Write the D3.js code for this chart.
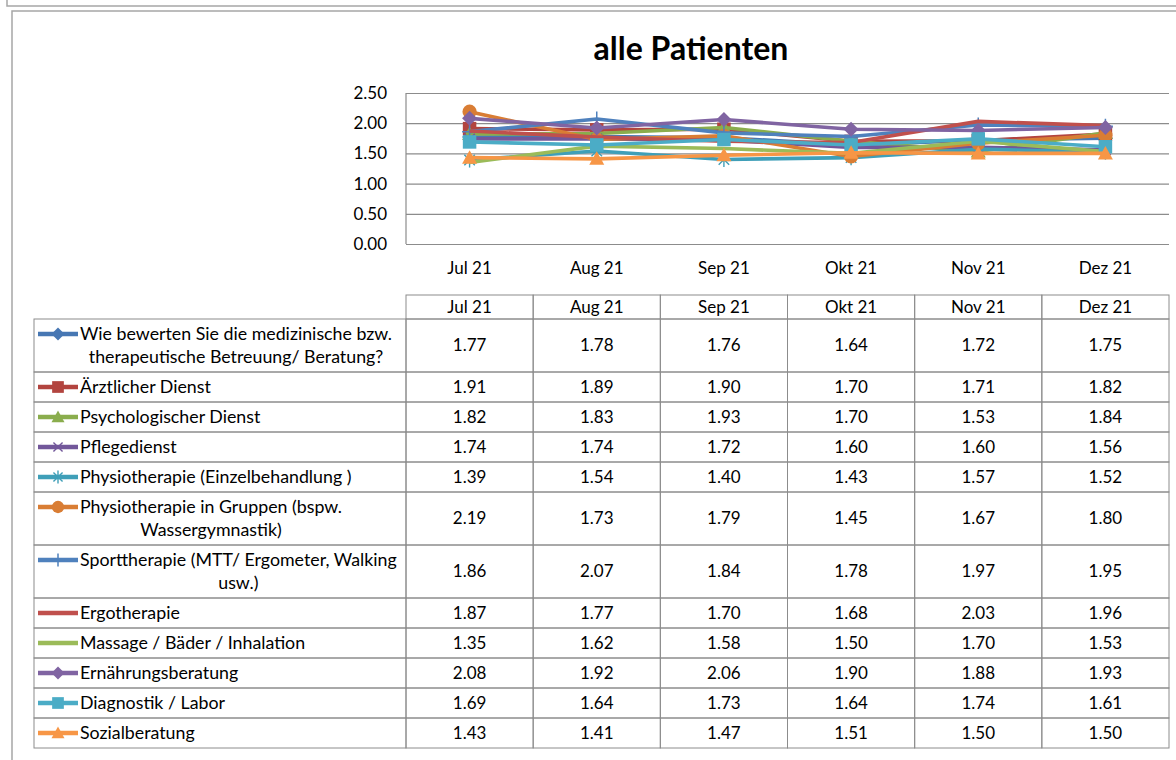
<!DOCTYPE html>
<html>
<head>
<meta charset="utf-8">
<style>
  body { margin: 0; background: #fff; }
  svg { display: block; font-family: Lato, "Open Sans", sans-serif; }
</style>
</head>
<body>
<svg id="chart" width="1176" height="760"></svg>
<script src="https://cdn.jsdelivr.net/npm/d3@7/dist/d3.min.js"></script>
<script>
// data
var months = ["Jul 21", "Aug 21", "Sep 21", "Okt 21", "Nov 21", "Dez 21"]
var yTicks = [0, 0.5, 1, 1.5, 2, 2.5]
var seriesNames = [
  "Wie bewerten Sie die medizinische bzw.\ntherapeutische Betreuung/ Beratung?",
  "Ärztlicher Dienst",
  "Psychologischer Dienst",
  "Pflegedienst",
  "Physiotherapie (Einzelbehandlung )",
  "Physiotherapie in Gruppen (bspw.\nWassergymnastik)",
  "Sporttherapie (MTT/ Ergometer, Walking\nusw.)",
  "Ergotherapie",
  "Massage / Bäder / Inhalation",
  "Ernährungsberatung",
  "Diagnostik / Labor",
  "Sozialberatung"
]
var wieBewerten   = [1.77, 1.78, 1.76, 1.64, 1.72, 1.75]
var aerztlich     = [1.91, 1.89, 1.90, 1.70, 1.71, 1.82]
var psychologisch = [1.82, 1.83, 1.93, 1.70, 1.53, 1.84]
var pflege        = [1.74, 1.74, 1.72, 1.60, 1.60, 1.56]
var physioEinzel  = [1.39, 1.54, 1.40, 1.43, 1.57, 1.52]
var physioGruppen = [2.19, 1.73, 1.79, 1.45, 1.67, 1.80]
var sport         = [1.86, 2.07, 1.84, 1.78, 1.97, 1.95]
var ergo          = [1.87, 1.77, 1.70, 1.68, 2.03, 1.96]
var massage       = [1.35, 1.62, 1.58, 1.50, 1.70, 1.53]
var ernaehrung    = [2.08, 1.92, 2.06, 1.90, 1.88, 1.93]
var diagnostik    = [1.69, 1.64, 1.73, 1.64, 1.74, 1.61]
var sozial        = [1.43, 1.41, 1.47, 1.51, 1.50, 1.50]
var seriesValues = [wieBewerten, aerztlich, psychologisch, pflege, physioEinzel, physioGruppen,
                    sport, ergo, massage, ernaehrung, diagnostik, sozial]

// styles
var colors = ["#4777b3", "#b2443f", "#8aad4d", "#72579a", "#3f9fb8", "#d97d34",
              "#4f81bd", "#c0504d", "#9bbb59", "#8064a2", "#4bacc6", "#f79646"]
var markers = ["diamond", "square", "triangle", "x", "star", "circle",
               "plus", "none", "none", "diamond", "square", "triangle"]

var svg = d3.select("#chart")
var gridColor = "#8c8c8c"
var frameColor = "#a6a6a6"
var labelSize = "17.8px"
var cellSize = "17px"

// frames
svg.append("path").attr("d", "M7,0 V6 H1176").attr("fill", "none").attr("stroke", frameColor).attr("stroke-width", 1.5)
svg.append("path").attr("d", "M12,760 V11 H1176").attr("fill", "none").attr("stroke", frameColor).attr("stroke-width", 1.5)

// title
svg.append("text").attr("x", 691).attr("y", 60).attr("text-anchor", "middle")
  .style("font-weight", "bold").style("font-size", "32px").text("alle Patienten")

// scales
var plot = {left: 406, right: 1169, top: 93, bottom: 244}
var x = d3.scaleBand().domain(months).range([plot.left, plot.right])
var y = d3.scaleLinear().domain([0, 2.5]).range([plot.bottom, plot.top])

// gridlines + y labels
var yAxis = svg.append("g").attr("transform", "translate(" + plot.left + ",0)")
  .call(d3.axisLeft(y).tickValues(yTicks).tickFormat(d3.format(".2f"))
    .tickSize(-(plot.right - plot.left)).tickPadding(19))
yAxis.select(".domain").remove()
yAxis.selectAll("line").attr("stroke", gridColor).attr("stroke-width", 1.2)
yAxis.selectAll("text").style("font-size", cellSize).style("font-family", "Lato, sans-serif").attr("fill", "#000")
svg.append("line").attr("x1", plot.left).attr("x2", plot.left).attr("y1", plot.top).attr("y2", plot.bottom)
  .attr("stroke", gridColor).attr("stroke-width", 1.2)

// category labels
var xAxis = svg.append("g").attr("transform", "translate(0," + plot.bottom + ")")
  .call(d3.axisBottom(x).tickSize(0).tickPadding(18))
xAxis.select(".domain").remove()
xAxis.selectAll("text").style("font-size", cellSize).style("font-family", "Lato, sans-serif").attr("fill", "#000")

function drawMarker(g, type, color, s) {
  if (type == "diamond") {
    g.append("path").attr("d", "M0," + (-s) + "L" + s + ",0L0," + s + "L" + (-s) + ",0Z").attr("fill", color)
  } else if (type == "square") {
    g.append("rect").attr("x", -s * 0.9).attr("y", -s * 0.9).attr("width", s * 1.8).attr("height", s * 1.8).attr("fill", color)
  } else if (type == "triangle") {
    g.append("path").attr("d", "M0," + (-s) + "L" + s + "," + (s * 0.8) + "L" + (-s) + "," + (s * 0.8) + "Z").attr("fill", color)
  } else if (type == "circle") {
    g.append("circle").attr("r", s * 0.95).attr("fill", color)
  } else if (type == "x" || type == "star") {
    var k = s * 0.7
    g.append("path").attr("d", "M" + (-k) + "," + (-k) + "L" + k + "," + k + "M" + (-k) + "," + k + "L" + k + "," + (-k))
      .attr("stroke", color).attr("stroke-width", 1.4)
    if (type == "star") g.append("path").attr("d", "M0," + (-s) + "V" + s).attr("stroke", color).attr("stroke-width", 1.4)
  } else if (type == "plus") {
    g.append("path").attr("d", "M0," + (-s) + "V" + s + "M" + (-s) + ",0H" + s).attr("stroke", color).attr("stroke-width", 1.5)
  }
}

// series lines
var line = d3.line().x((d, i) => x(months[i]) + x.bandwidth() / 2).y((d) => y(d))
seriesValues.forEach((vals, si) => {
  var g = svg.append("g")
  g.append("path").attr("d", line(vals)).attr("fill", "none").attr("stroke", colors[si])
    .attr("stroke-width", 3.6).attr("stroke-linejoin", "round")
  vals.forEach((v, i) => {
    drawMarker(g.append("g").attr("transform", "translate(" + (x(months[i]) + x.bandwidth() / 2) + "," + y(v) + ")"),
      markers[si], colors[si], 7.5)
  })
})

// data table
var table = svg.append("g")
var tLeft = 34, headTop = 295, headBottom = 319
var borderColor = "#8c8c8c"
// header row
months.forEach((m) => {
  table.append("rect").attr("x", x(m)).attr("y", headTop).attr("width", x.bandwidth()).attr("height", headBottom - headTop)
    .attr("fill", "none").attr("stroke", borderColor)
  table.append("text").attr("x", x(m) + x.bandwidth() / 2).attr("y", (headTop + headBottom) / 2).attr("dy", "0.35em")
    .attr("text-anchor", "middle").style("font-size", cellSize).text(m)
})
var rowTop = headBottom
seriesNames.forEach((name, si) => {
  var lines = name.split("\n")
  var h = 7 + 23 * lines.length
  var mid = rowTop + h / 2
  table.append("rect").attr("x", tLeft).attr("y", rowTop).attr("width", plot.left - tLeft).attr("height", h)
    .attr("fill", "none").attr("stroke", borderColor)
  months.forEach((m, i) => {
    table.append("rect").attr("x", x(m)).attr("y", rowTop).attr("width", x.bandwidth()).attr("height", h)
      .attr("fill", "none").attr("stroke", borderColor)
    table.append("text").attr("x", x(m) + x.bandwidth() / 2).attr("y", mid).attr("dy", "0.35em")
      .attr("text-anchor", "middle").style("font-size", cellSize).text(seriesValues[si][i].toFixed(2))
  })
  // legend key
  var firstY = mid - (lines.length - 1) * 11.5
  table.append("line").attr("x1", 38).attr("x2", 78).attr("y1", firstY).attr("y2", firstY)
    .attr("stroke", colors[si]).attr("stroke-width", 4.5)
  drawMarker(table.append("g").attr("transform", "translate(58," + firstY + ")"), markers[si], colors[si], 6.5)
  // label lines, centred on one another
  var texts = lines.map((t, li) => table.append("text").attr("y", firstY + li * 23).attr("dy", "0.35em")
    .style("font-size", labelSize).text(t))
  var widths = texts.map((t) => t.node().getComputedTextLength())
  var maxW = d3.max(widths)
  texts.forEach((t, li) => t.attr("x", 80 + (maxW - widths[li]) / 2))
  rowTop += h
})
</script>
</body>
</html>
